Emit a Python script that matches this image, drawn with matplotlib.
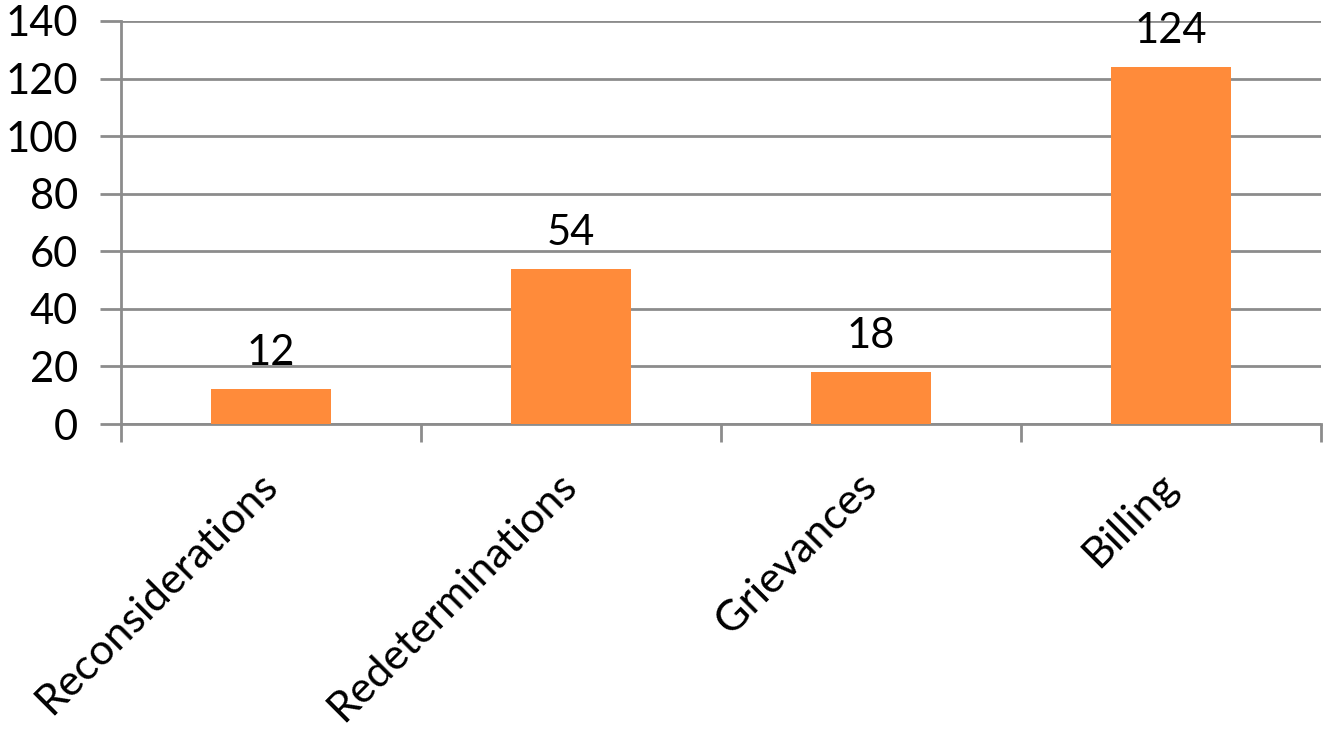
import matplotlib
matplotlib.use("Agg")
import matplotlib.pyplot as plt
from matplotlib.transforms import offset_copy

categories = ["Reconsiderations", "Redeterminations", "Grievances", "Billing"]
values = [12, 54, 18, 124]
yticks = [0, 20, 40, 60, 80, 100, 120, 140]

plt.rcParams['font.family'] = ['Lato', 'DejaVu Sans']

fig = plt.figure(figsize=(13.23, 7.32), dpi=100)
ax = fig.add_axes([121/1323, 1-424/732, 1200/1323, 403/732])

x = list(range(len(categories)))
bars = ax.bar(x, values, width=0.4, color="#FF8B3A", zorder=3)
ax.set_xlim(-0.5, len(categories) - 0.5)
ax.set_ylim(0, 140)
ax.set_yticks(yticks)
ax.set_yticklabels([str(t) for t in yticks], fontsize=30)

grid_c = "#8C8C8C"
ax.yaxis.grid(True, color=grid_c, linewidth=2, zorder=0)
for s in ["top", "right"]:
    ax.spines[s].set_visible(False)
ax.spines["left"].set_color(grid_c)
ax.spines["left"].set_linewidth(2)
ax.spines["bottom"].set_color(grid_c)
ax.spines["bottom"].set_linewidth(2)
ax.tick_params(axis="y", length=15, width=2, color=grid_c, pad=16)

ax.set_xticks([i - 0.5 for i in range(len(categories) + 1)], minor=False)
ax.set_xticklabels([])
ax.tick_params(axis="x", length=13, width=2, color=grid_c)

for i, c in enumerate(categories):
    tr = offset_copy(ax.get_xaxis_transform(), fig=fig, x=13, y=-42, units="dots")
    ax.text(i, 0, c, transform=tr, rotation=45, ha="right", va="top",
            fontsize=31)

for b, v in zip(bars, values):
    ax.annotate(str(v), (b.get_x() + b.get_width() / 2, v), xytext=(0, 17),
                textcoords="offset pixels", ha="center", va="bottom", fontsize=30)

fig.savefig("out.png", dpi=100)
